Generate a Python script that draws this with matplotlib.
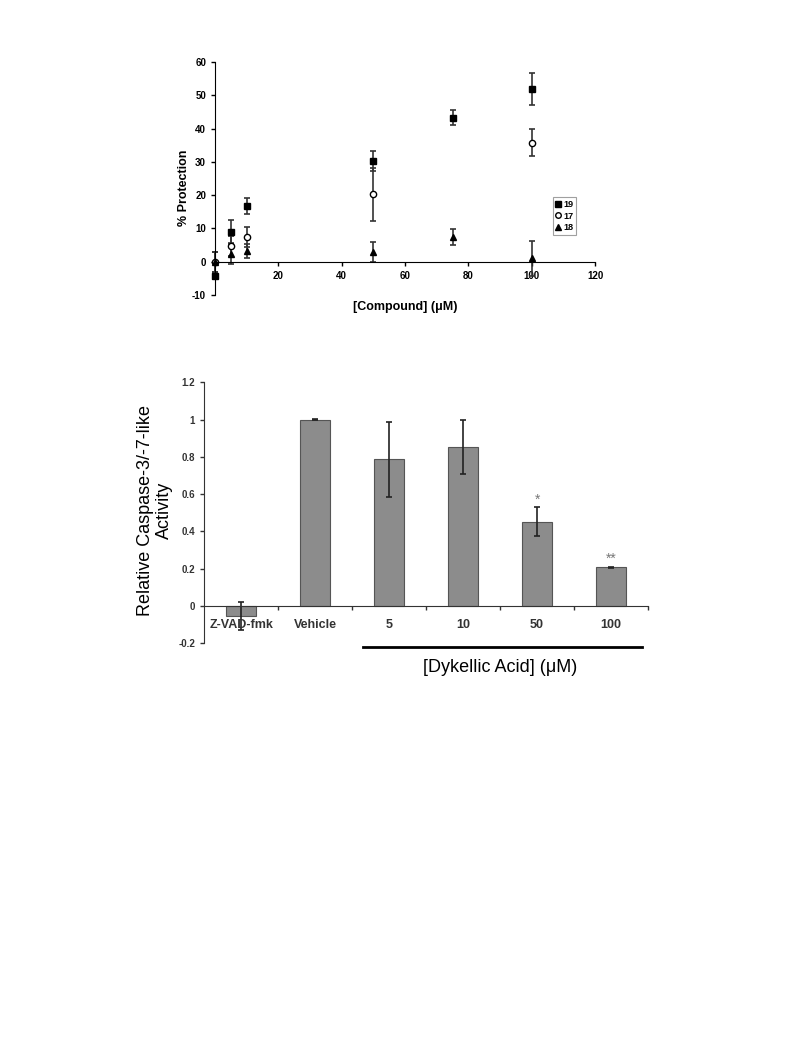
import numpy as np
import matplotlib.pyplot as plt
from matplotlib.lines import Line2D

plt.rcParams['font.family'] = ['Liberation Sans', 'DejaVu Sans']
plt.rcParams['axes.unicode_minus'] = False

# top panel: % protection vs concentration
x19 = [0, 5, 10, 50, 75, 100]
y19 = [-4.3, 9.0, 16.7, 30.3, 43.3, 52.0]
e19 = [1.0, 3.5, 2.3, 3.0, 2.3, 4.8]

x17 = [0, 5, 10, 50, 100]
y17 = [0.0, 4.7, 7.4, 20.3, 35.8]
e17 = [3.0, 3.0, 3.0, 8.0, 4.0]

x18 = [0, 5, 10, 50, 75, 100]
y18 = [0.0, 2.3, 3.2, 3.0, 7.4, 1.0]
e18 = [3.0, 3.0, 2.0, 3.0, 2.5, 5.2]

# bottom panel: caspase activity
cats = ['Z-VAD-fmk', 'Vehicle', '5', '10', '50', '100']
act = [-0.055, 1.0, 0.787, 0.851, 0.452, 0.207]
act_err = [0.075, 0.003, 0.2, 0.145, 0.078, 0.005]
stars = ['', '', '', '', '*', '**']

fig = plt.figure(figsize=(7.85, 10.44), dpi=100)

# ---- top chart
ax1 = fig.add_axes([0.274, 0.7174, 0.484, 0.2232])
kw = dict(ls='none', ecolor='#333333', elinewidth=1.2, capsize=2, capthick=1.2, markersize=4.5)
conts = [ax1.errorbar(x19, y19, yerr=e19, marker='s', color='black', **kw),
         ax1.errorbar(x17, y17, yerr=e17, marker='o', mfc='white', mec='black', color='black', **kw),
         ax1.errorbar(x18, y18, yerr=e18, marker='^', color='black', **kw)]
for c in conts:
    for art in c.get_children():
        art.set_clip_on(False)
ax1.set_xlim(0, 120)
ax1.set_ylim(-10, 60)
ax1.set_xticks([20, 40, 60, 80, 100, 120])
ax1.set_yticks(np.arange(-10, 61, 10))
ax1.spines['top'].set_visible(False)
ax1.spines['right'].set_visible(False)
ax1.spines['bottom'].set_position(('data', 0))
ax1.tick_params(labelsize=7, length=3, width=1)
for t in ax1.get_xticklabels() + ax1.get_yticklabels():
    t.set_fontweight('bold')
ax1.set_ylabel('% Protection', fontsize=9, fontweight='bold')
ax1.yaxis.set_label_coords(-0.066, 0.46)
ax1.text(0.5, -0.05, '[Compound] (μM)', transform=ax1.transAxes, ha='center', va='center',
         fontsize=9, fontweight='bold')
handles = [Line2D([], [], ls='none', marker='s', color='black', markersize=4),
           Line2D([], [], ls='none', marker='o', mfc='white', mec='black', markersize=4),
           Line2D([], [], ls='none', marker='^', color='black', markersize=4)]
leg = ax1.legend(handles, ['19', '17', '18'], loc='upper left', bbox_to_anchor=(0.89, 0.42),
                 fontsize=6.5, frameon=True, fancybox=False, edgecolor='#888888',
                 handlelength=0.5, handletextpad=0.3, borderpad=0.3, labelspacing=0.3,
                 borderaxespad=0)
leg.get_frame().set_linewidth(0.8)
for t in leg.get_texts():
    t.set_fontweight('bold')

# ---- bottom chart
ax2 = fig.add_axes([0.26, 0.3838, 0.5656, 0.25])
pos = np.arange(len(cats))
ax2.bar(pos, act, width=0.4, color='#8c8c8c', edgecolor='#555555', linewidth=0.8,
        yerr=act_err, error_kw=dict(ecolor='#222222', elinewidth=1.2, capsize=2, capthick=1.2))
for p, v, e, s in zip(pos, act, act_err, stars):
    if s:
        ax2.text(p, v + e + 0.04, s, ha='center', va='center', fontsize=10, color='#777777')
ax2.set_xlim(-0.5, 5.5)
ax2.set_ylim(-0.2, 1.2)
ax2.set_yticks([-0.2, 0, 0.2, 0.4, 0.6, 0.8, 1, 1.2])
ax2.set_yticklabels(['-0.2', '0', '0.2', '0.4', '0.6', '0.8', '1', '1.2'])
ax2.set_xticks(pos + 0.5)
ax2.set_xticklabels([])
ax2.spines['top'].set_visible(False)
ax2.spines['right'].set_visible(False)
ax2.spines['bottom'].set_position(('data', 0))
ax2.spines['left'].set_color('#333333')
ax2.spines['bottom'].set_color('#333333')
ax2.tick_params(labelsize=7, length=3, width=1, colors='#333333')
for t in ax2.get_yticklabels():
    t.set_fontweight('bold')
for p, c in zip(pos, cats):
    ax2.text(p, -0.1, c, ha='center', va='center', fontsize=9, fontweight='bold', color='#333333')
ax2.plot([1.65, 5.42], [-0.218, -0.218], color='black', lw=2, clip_on=False)
ax2.text(3.5, -0.332, '[Dykellic Acid] (μM)', ha='center', va='center', fontsize=13)
ax2.set_ylabel('Relative Caspase-3/-7-like\nActivity', fontsize=13, linespacing=1.15)
ax2.yaxis.set_label_coords(-0.07, 0.51)

fig.savefig('out.png', dpi=100)
